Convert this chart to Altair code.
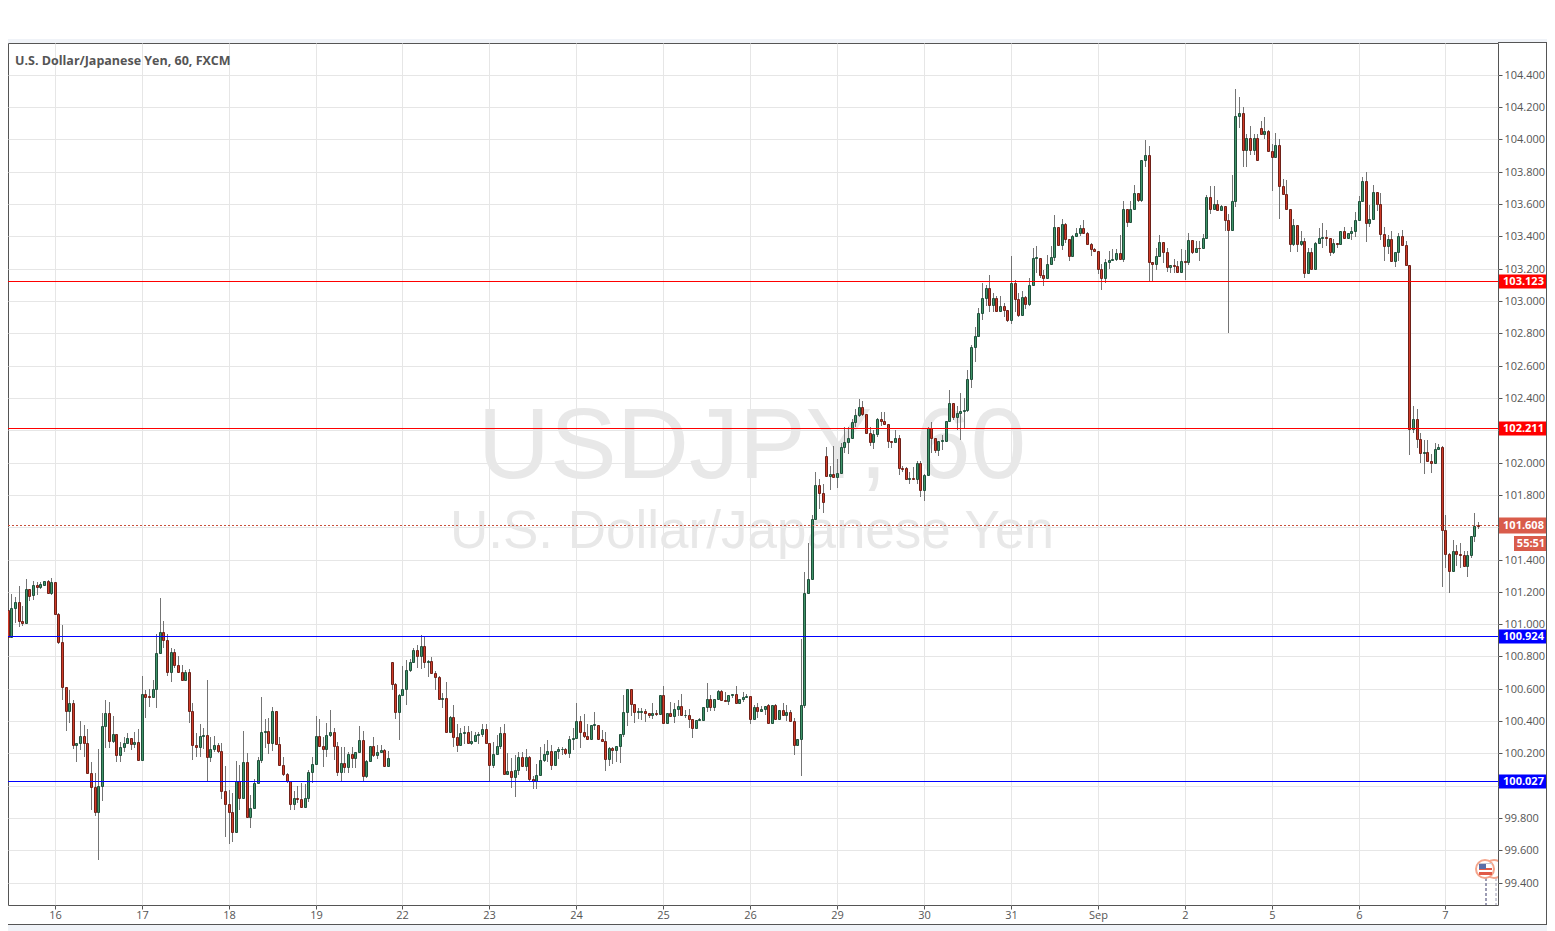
import json
import altair as alt
import pandas as pd

opens = [
101.087,100.92,101.10,101.14,101.02,101.01,101.22,101.18,101.24,101.23,
101.245,101.265,101.19,101.26,101.06,100.89,100.61,100.465,100.515,100.25,
100.265,100.31,100.265,100.08,99.99,99.84,100.0,100.37,100.45,100.28,
100.32,100.19,100.24,100.265,100.295,100.26,100.27,100.16,100.57,100.555,
100.55,100.60,100.82,100.95,100.90,100.705,100.83,100.75,100.705,100.655,
100.705,100.46,100.25,100.24,100.305,100.315,100.18,100.225,100.255,100.215,
99.97,99.89,99.84,99.715,100.03,99.925,100.15,99.805,99.865,100.02,
100.16,100.33,100.34,100.265,100.46,100.26,100.13,100.07,100.03,99.885,
99.925,99.92,99.87,99.925,100.085,100.135,100.31,100.245,100.23,100.315,
100.33,100.245,100.085,100.14,100.115,100.195,100.17,100.21,100.285,100.06,
100.155,100.245,100.19,100.21,100.22,100.125,100.765,100.63,100.455,100.56,
100.60,100.715,100.765,100.84,100.805,100.865,100.765,100.77,100.70,100.675,
100.535,100.54,100.335,100.425,100.30,100.25,100.325,100.33,100.265,100.28,
100.315,100.32,100.35,100.265,100.13,100.195,100.245,100.325,100.075,100.09,
100.055,100.095,100.18,100.125,100.175,100.04,100.03,100.065,100.16,100.195,
100.215,100.13,100.215,100.225,100.23,100.2,100.29,100.295,100.4,100.33,
100.305,100.29,100.375,100.375,100.29,100.275,100.165,100.235,100.22,100.245,
100.32,100.455,100.597,100.505,100.455,100.455,100.465,100.45,100.44,100.45,
100.447,100.56,100.39,100.45,100.43,100.475,100.495,100.435,100.44,100.41,
100.355,100.405,100.405,100.485,100.535,100.485,100.535,100.585,100.53,100.525,
100.56,100.57,100.51,100.535,100.55,100.555,100.415,100.485,100.46,100.475,
100.50,100.39,100.50,100.41,100.47,100.44,100.455,100.40,100.25,100.29,
100.50,101.195,101.28,101.65,101.86,101.81,102.04,101.915,101.93,101.91,
101.935,102.095,102.125,102.15,102.25,102.295,102.345,102.30,102.185,102.125,
102.175,102.27,102.26,102.24,102.135,102.13,102.15,101.965,101.965,101.90,
101.905,101.90,102.0,101.83,101.925,102.215,102.15,102.08,102.135,102.135,
102.255,102.37,102.28,102.305,102.32,102.325,102.52,102.715,102.78,102.925,
103.02,103.08,102.975,103.02,102.94,102.97,102.945,102.885,103.11,103.01,
102.91,103.025,102.98,103.10,103.265,103.265,103.16,103.145,103.23,103.27,
103.455,103.345,103.475,103.385,103.275,103.40,103.42,103.45,103.42,103.355,
103.32,103.31,103.20,103.145,103.24,103.255,103.26,103.295,103.26,103.57,
103.49,103.57,103.67,103.625,103.87,103.905,103.24,103.23,103.28,103.365,
103.305,103.21,103.22,103.215,103.18,103.245,103.24,103.375,103.305,103.33,
103.325,103.39,103.645,103.57,103.60,103.565,103.585,103.50,103.44,103.62,
104.145,104.16,103.935,104.01,103.935,104.01,104.07,104.03,104.05,103.925,
103.89,103.965,103.71,103.66,103.57,103.35,103.47,103.355,103.37,103.17,
103.305,103.195,103.36,103.39,103.395,103.39,103.305,103.36,103.35,103.43,
103.39,103.42,103.43,103.50,103.62,103.74,103.48,103.505,103.675,103.60,
103.415,103.34,103.385,103.25,103.30,103.40,103.345,103.225,102.21,102.27,
102.145,102.06,102.065,102.01,102.0,102.085,102.095,101.58,101.435,101.33,
101.45,101.435,101.425,101.36,101.425,101.545,101.612,
]
highs = [
101.09,101.186,101.17,101.235,101.11,101.28,101.22,101.265,101.26,101.26,
101.27,101.275,101.285,101.26,101.07,100.995,100.61,100.59,100.53,100.265,
100.40,100.375,100.35,100.15,100.08,100.23,100.45,100.53,100.52,100.43,
100.32,100.27,100.30,100.325,100.295,100.33,100.35,100.68,100.59,100.60,
100.655,100.94,101.16,101.02,100.94,100.855,100.845,100.80,100.745,100.715,
100.725,100.51,100.325,100.38,100.355,100.655,100.30,100.305,100.265,100.265,
100.12,99.975,99.955,100.155,100.13,100.34,100.20,99.94,100.04,100.18,
100.55,100.41,100.42,100.49,100.46,100.30,100.18,100.08,100.03,99.965,
100.0,100.017,100.01,100.1,100.175,100.43,100.41,100.30,100.39,100.47,
100.36,100.27,100.24,100.24,100.21,100.24,100.21,100.37,100.34,100.16,
100.245,100.30,100.25,100.255,100.225,100.215,100.765,100.635,100.565,100.74,
100.78,100.785,100.85,100.87,100.935,100.925,100.78,100.795,100.71,100.68,
100.575,100.64,100.43,100.50,100.38,100.36,100.37,100.37,100.34,100.335,
100.33,100.385,100.38,100.264,100.27,100.315,100.365,100.385,100.20,100.17,
100.19,100.21,100.21,100.23,100.185,100.06,100.135,100.24,100.26,100.285,
100.255,100.215,100.24,100.24,100.235,100.31,100.355,100.515,100.43,100.445,
100.38,100.375,100.455,100.375,100.345,100.335,100.24,100.24,100.245,100.32,
100.56,100.60,100.597,100.505,100.48,100.48,100.475,100.45,100.51,100.47,
100.56,100.62,100.45,100.52,100.51,100.53,100.565,100.47,100.475,100.41,
100.405,100.42,100.49,100.635,100.56,100.535,100.59,100.59,100.58,100.56,
100.57,100.62,100.535,100.58,100.57,100.555,100.50,100.51,100.495,100.495,
100.505,100.50,100.505,100.47,100.51,100.50,100.47,100.42,100.29,100.905,
101.32,101.50,101.675,101.94,101.90,101.87,102.095,101.98,102.10,102.02,
102.12,102.22,102.22,102.27,102.33,102.395,102.38,102.30,102.22,102.20,
102.275,102.315,102.31,102.24,102.135,102.20,102.17,101.98,101.97,101.94,
101.975,102.01,102.01,101.93,102.22,102.25,102.15,102.135,102.17,102.255,
102.45,102.37,102.35,102.43,102.40,102.57,102.73,102.84,102.955,103.11,
103.10,103.16,103.05,103.03,103.03,102.99,102.945,103.28,103.13,103.05,
103.06,103.03,103.14,103.33,103.34,103.265,103.19,103.285,103.34,103.53,
103.455,103.51,103.485,103.385,103.405,103.45,103.47,103.50,103.425,103.36,
103.33,103.31,103.23,103.26,103.31,103.32,103.32,103.41,103.62,103.57,
103.62,103.72,103.67,103.87,103.995,103.96,103.24,103.33,103.41,103.365,
103.33,103.22,103.26,103.25,103.32,103.315,103.42,103.38,103.37,103.37,
103.415,103.655,103.71,103.71,103.625,103.595,103.59,103.54,103.78,104.31,
104.26,104.20,104.03,104.08,104.03,104.03,104.115,104.14,104.055,103.97,
104.04,104.0,103.755,103.75,103.57,103.51,103.47,103.43,103.39,103.33,
103.33,103.365,103.45,103.48,103.44,103.39,103.385,103.36,103.43,103.46,
103.42,103.46,103.55,103.65,103.765,103.80,103.595,103.72,103.675,103.665,
103.46,103.41,103.43,103.305,103.42,103.44,103.37,103.225,102.35,102.33,
102.18,102.14,102.14,102.055,102.12,102.115,102.10,101.675,101.44,101.52,
101.49,101.50,101.45,101.455,101.545,101.685,101.635,
]
lows = [
100.92,100.915,101.01,100.98,100.99,101.01,101.145,101.15,101.18,101.215,
101.245,101.185,101.18,101.06,100.88,100.53,100.34,100.39,100.23,100.15,
100.22,100.18,100.08,99.85,99.815,99.54,99.905,100.235,100.235,100.265,
100.15,100.15,100.21,100.265,100.22,100.235,100.16,100.16,100.42,100.49,
100.54,100.48,100.82,100.855,100.68,100.64,100.73,100.70,100.65,100.65,
100.39,100.16,100.18,100.18,100.23,100.03,100.145,100.21,100.205,99.92,
99.68,99.64,99.655,99.71,99.85,99.925,99.805,99.74,99.86,100.02,
100.14,100.235,100.195,100.215,100.255,100.13,100.06,100.02,99.85,99.85,
99.895,99.865,99.865,99.90,100.02,100.135,100.24,100.115,100.18,100.30,
100.16,100.06,100.03,100.08,100.08,100.11,100.11,100.20,100.03,100.05,
100.15,100.18,100.165,100.21,100.12,100.12,100.595,100.41,100.285,100.56,
100.50,100.705,100.76,100.73,100.72,100.73,100.67,100.70,100.595,100.535,
100.48,100.335,100.33,100.24,100.21,100.25,100.26,100.26,100.25,100.27,
100.26,100.30,100.265,100.03,100.11,100.195,100.23,100.07,100.065,99.985,
99.93,100.065,100.12,100.09,100.03,99.98,99.98,100.06,100.145,100.15,
100.095,100.13,100.165,100.19,100.19,100.17,100.22,100.29,100.235,100.295,
100.29,100.29,100.345,100.29,100.27,100.09,100.125,100.135,100.145,100.14,
100.30,100.37,100.43,100.39,100.41,100.405,100.395,100.42,100.41,100.43,
100.445,100.39,100.39,100.425,100.39,100.43,100.43,100.42,100.36,100.295,
100.35,100.40,100.40,100.455,100.46,100.46,100.535,100.525,100.525,100.50,
100.54,100.51,100.51,100.52,100.54,100.385,100.41,100.42,100.46,100.44,
100.39,100.385,100.41,100.41,100.43,100.40,100.40,100.19,100.25,100.06,
100.48,101.195,101.28,101.65,101.71,101.69,101.915,101.83,101.905,101.845,
101.93,102.06,102.05,102.15,102.22,102.28,102.29,102.185,102.10,102.085,
102.16,102.225,102.23,102.09,102.09,102.13,101.925,101.94,101.90,101.865,
101.90,101.87,101.785,101.765,101.92,102.06,102.06,102.04,102.08,102.135,
102.25,102.265,102.20,102.14,102.21,102.31,102.46,102.62,102.78,102.885,
102.97,102.93,102.93,102.94,102.94,102.90,102.87,102.86,102.93,102.90,
102.91,102.95,102.97,103.10,103.17,103.145,103.09,103.14,103.23,103.25,
103.345,103.315,103.36,103.25,103.275,103.40,103.40,103.415,103.355,103.275,
103.31,103.165,103.065,103.11,103.195,103.255,103.25,103.26,103.24,103.46,
103.48,103.57,103.61,103.61,103.83,103.115,103.115,103.19,103.27,103.235,
103.18,103.17,103.17,103.18,103.175,103.13,103.22,103.29,103.305,103.25,
103.325,103.39,103.54,103.57,103.555,103.555,103.43,102.80,103.44,103.58,
104.07,103.83,103.83,103.90,103.90,103.87,104.03,104.0,103.92,103.68,
103.89,103.51,103.655,103.57,103.30,103.34,103.30,103.34,103.145,103.17,
103.19,103.195,103.36,103.33,103.34,103.28,103.29,103.325,103.35,103.385,
103.39,103.38,103.395,103.50,103.615,103.365,103.46,103.505,103.555,103.375,
103.25,103.29,103.25,103.21,103.25,103.34,103.225,102.045,102.18,102.09,
102.0,101.93,102.005,101.935,102.0,102.085,101.23,101.35,101.195,101.32,
101.36,101.35,101.36,101.29,101.41,101.51,101.59,
]
closes = [
100.92,101.10,101.14,101.02,101.01,101.22,101.175,101.24,101.23,101.25,
101.265,101.19,101.26,101.06,100.89,100.61,100.465,100.515,100.25,100.265,
100.31,100.265,100.08,99.99,99.84,100.0,100.37,100.45,100.28,100.32,
100.19,100.24,100.265,100.295,100.26,100.27,100.16,100.57,100.55,100.55,
100.60,100.82,100.95,100.90,100.705,100.83,100.75,100.705,100.655,100.705,
100.46,100.25,100.24,100.305,100.315,100.18,100.225,100.255,100.215,99.97,
99.89,99.84,99.715,100.03,99.925,100.15,99.805,99.865,100.02,100.16,
100.33,100.34,100.265,100.46,100.26,100.13,100.07,100.03,99.885,99.925,
99.915,99.87,99.925,100.085,100.135,100.31,100.245,100.23,100.315,100.33,
100.245,100.085,100.14,100.115,100.195,100.17,100.21,100.285,100.06,100.155,
100.245,100.19,100.21,100.22,100.125,100.17,100.63,100.455,100.56,100.60,
100.715,100.765,100.84,100.805,100.865,100.765,100.77,100.70,100.675,100.535,
100.54,100.335,100.425,100.30,100.25,100.325,100.33,100.265,100.28,100.315,
100.32,100.35,100.265,100.13,100.195,100.245,100.325,100.075,100.09,100.055,
100.095,100.18,100.125,100.175,100.04,100.03,100.065,100.16,100.195,100.215,
100.13,100.215,100.225,100.23,100.2,100.29,100.295,100.4,100.33,100.305,
100.29,100.375,100.38,100.29,100.275,100.165,100.235,100.22,100.245,100.32,
100.455,100.597,100.505,100.455,100.46,100.465,100.45,100.44,100.45,100.447,
100.56,100.39,100.45,100.43,100.475,100.495,100.435,100.44,100.41,100.355,
100.405,100.41,100.485,100.535,100.485,100.535,100.585,100.53,100.525,100.56,
100.57,100.51,100.535,100.55,100.555,100.415,100.485,100.46,100.475,100.495,
100.39,100.50,100.41,100.47,100.44,100.455,100.40,100.25,100.29,100.50,
101.195,101.28,101.65,101.86,101.81,101.755,101.915,101.93,101.91,101.935,
102.095,102.125,102.15,102.25,102.295,102.345,102.30,102.185,102.125,102.175,
102.27,102.26,102.24,102.135,102.13,102.15,101.965,101.96,101.90,101.905,
101.90,102.0,101.83,101.925,102.215,102.15,102.08,102.135,102.14,102.255,
102.37,102.28,102.305,102.32,102.325,102.52,102.715,102.78,102.925,103.02,
103.08,102.975,103.02,102.94,102.97,102.945,102.885,103.11,103.01,102.91,
103.025,102.98,103.10,103.265,103.27,103.16,103.145,103.23,103.27,103.455,
103.345,103.475,103.385,103.275,103.40,103.42,103.45,103.42,103.355,103.32,
103.31,103.20,103.145,103.24,103.255,103.26,103.295,103.26,103.57,103.49,
103.57,103.67,103.625,103.87,103.905,103.24,103.23,103.28,103.365,103.305,
103.21,103.22,103.215,103.18,103.245,103.24,103.375,103.305,103.33,103.325,
103.39,103.645,103.57,103.60,103.565,103.585,103.50,103.44,103.62,104.145,
104.16,103.935,104.01,103.935,104.01,103.87,104.03,104.05,103.925,103.89,
103.965,103.71,103.66,103.57,103.35,103.47,103.355,103.37,103.17,103.305,
103.195,103.36,103.39,103.395,103.39,103.305,103.36,103.35,103.43,103.39,
103.42,103.43,103.50,103.62,103.74,103.48,103.505,103.675,103.60,103.415,
103.34,103.385,103.25,103.30,103.40,103.345,103.225,102.21,102.27,102.145,
102.06,102.065,102.01,102.0,102.085,102.095,101.58,101.435,101.33,101.45,
101.435,101.425,101.36,101.425,101.545,101.608,101.608,
]

day_ticks = [13, 37, 61, 85, 109, 133, 157, 181, 205, 229, 253, 277, 301, 325, 349, 373, 397]
day_labels = ["16", "17", "18", "19", "22", "23", "24", "25", "26", "29", "30", "31", "Sep", "2", "5", "6", "7"]
price_ticks = [99.4, 99.6, 99.8, 100.0, 100.2, 100.4, 100.6, 100.8, 101.0, 101.2, 101.4, 101.6, 101.8,
               102.0, 102.2, 102.4, 102.6, 102.8, 103.0, 103.2, 103.4, 103.6, 103.8, 104.0, 104.2, 104.4]
level_prices = [103.123, 102.211, 100.924, 100.027]
level_colors = ["#ff0000", "#ff0000", "#0000ff", "#0000ff"]
last_price = 101.608
countdown = "55:51"

W, H = 1490, 862
AXC = "#555555"
FONT = "Open Sans"

candles = pd.DataFrame({"i": range(len(opens)), "o": opens, "h": highs, "l": lows, "c": closes})
candles["dir"] = ["up" if c >= o else "down" for o, c in zip(opens, closes)]
levels = pd.DataFrame({"p": level_prices, "col": level_colors, "txt": [f"{v:.3f}" for v in level_prices]})
last = pd.DataFrame({"p": [last_price], "txt": [f"{last_price:.3f}"]})
one = pd.DataFrame({"a": [0]})

x_scale = alt.Scale(domain=[0.091, 411.5], nice=False, zero=False, round=True, padding=0)
y_scale = alt.Scale(domain=[99.2621, 104.5961], nice=False, zero=False, round=True, padding=0)
x_axis = alt.Axis(
    values=day_ticks, labelExpr=json.dumps(day_labels) + "[(datum.value-13)/24]", grid=True, gridColor="#e6e6e6",
    domain=False, tickColor=AXC, tickSize=4, labelColor=AXC, labelFont=FONT, labelFontSize=11, labelPadding=0,
    labelOverlap=False)
y_axis = alt.Axis(
    orient="right", values=price_ticks, grid=True, gridColor="#e6e6e6", domain=False, tickColor=AXC,
    labelExpr="(abs(datum.value-100)<0.01||abs(datum.value-102.2)<0.01||abs(datum.value-101.6)<0.01)"
              "?'':format(datum.value,'.3f')",
    tickSize=4, labelColor=AXC, labelFont=FONT, labelFontSize=11, labelPadding=2, labelOverlap=False)
X = alt.X("i:Q", scale=x_scale, axis=x_axis, title=None)
NOY = dict(scale=y_scale, axis=y_axis, title=None)


def box(x, x2, y, y2, fill):
    return alt.Chart(one).mark_rect(fill=fill, stroke=None).encode(
        x=alt.value(x), x2=alt.value(x2), y=alt.value(y), y2=alt.value(y2))


def label(text, x, y, size, color, weight="normal", align="center", font=FONT, baseline="middle"):
    return alt.Chart(one).mark_text(text=text, fontSize=size, color=color, fontWeight=weight, align=align,
                                    font=font, baseline=baseline).encode(x=alt.value(x), y=alt.value(y))


band = "#f0f3f8"
chrome = [box(-8, 1539, -4, 0, band), box(-8, 1539, 882, 890, band)]

watermark = [
    label("USDJPY, 60", 744, 435, 100, "#e8e8e8", font="Liberation Sans", baseline="alphabetic"),
    label("U.S. Dollar/Japanese Yen", 744, 505, 53, "#e8e8e8", font="Liberation Sans", baseline="alphabetic"),
]

wicks = alt.Chart(candles).mark_rule(color="#747474", strokeWidth=1, xOffset=0.5).encode(
    x=X, y=alt.Y("l:Q", **NOY), y2="h:Q")

bodies = alt.Chart(candles).mark_bar(size=2, strokeWidth=1, xOffset=0.5, yOffset=0.5, y2Offset=0.5).encode(
    x=X, y=alt.Y("o:Q", **NOY), y2="c:Q",
    fill=alt.Fill("dir:N", scale=alt.Scale(domain=["up", "down"], range=["#3f9468", "#cf3b28"]), legend=None),
    stroke=alt.Stroke("dir:N", scale=alt.Scale(domain=["up", "down"], range=["#1f4f3a", "#6e2018"]), legend=None),
)

lvl_lines = alt.Chart(levels).mark_rule(strokeWidth=1, yOffset=0.5).encode(
    y=alt.Y("p:Q", **NOY), color=alt.Color("col:N", scale=None))
last_line = alt.Chart(last).mark_rule(color="#c8503c", strokeWidth=1, strokeDash=[2, 2], yOffset=-0.5).encode(
    y=alt.Y("p:Q", **NOY))
lvl_boxes = alt.Chart(levels).mark_rule(strokeWidth=14, yOffset=0.5).encode(
    x=alt.value(1491), x2=alt.value(1539), y=alt.Y("p:Q", **NOY), color=alt.Color("col:N", scale=None))
lvl_text = alt.Chart(levels).mark_text(color="white", fontWeight="bold", fontSize=11, font=FONT, yOffset=1).encode(
    x=alt.value(1515.5), y=alt.Y("p:Q", **NOY), text="txt:N")
last_box = alt.Chart(last).mark_rule(strokeWidth=16, color="#d95c4b", yOffset=-0.5).encode(
    x=alt.value(1491), x2=alt.value(1539), y=alt.Y("p:Q", **NOY))
last_text = alt.Chart(last).mark_text(color="white", fontWeight="bold", fontSize=11, font=FONT, yOffset=-0.5).encode(
    x=alt.value(1515.5), y=alt.Y("p:Q", **NOY), text="txt:N")
count_box = box(1506, 1539, 493, 508, "#d95c4b")
count_text = label(countdown, 1523, 500.5, 11, "white", "bold")

title = label("U.S. Dollar/Japanese Yen, 60, FXCM", 7, 18, 12.5, AXC, "bold", align="left")

frame = [box(1490, 1539, -1, 0, AXC), box(1538, 1539, -1, 881, AXC), box(0, 1539, 881, 882, AXC)]

ev_lines = [
    alt.Chart(one).mark_rule(color="#9c9cb4", strokeWidth=2, strokeDash=[3, 2]).encode(
        x=alt.value(1478), y=alt.value(835), y2=alt.value(862)),
    alt.Chart(one).mark_rule(color="#9c9cb4", strokeWidth=1, strokeDash=[3, 2]).encode(
        x=alt.value(1488), y=alt.value(835), y2=alt.value(862)),
]
ring2 = alt.Chart(one).mark_point(shape="circle", size=324, filled=True, fill="white", stroke="#f4a58c", strokeWidth=2,
                                  opacity=1, clip=True).encode(x=alt.value(1486), y=alt.value(826))
ring1 = alt.Chart(one).mark_point(shape="circle", size=324, filled=True, fill="white", stroke="#f4a58c", strokeWidth=2,
                                  opacity=1).encode(x=alt.value(1477), y=alt.value(826))
flag = [
    box(1471, 1484, 825, 827, "#e05a48"),
    box(1471, 1484, 829, 832, "#e05a48"),
    box(1471, 1478, 820, 826, "#5a6ea8"),
    box(1471, 1484, 820, 821, "#c9c9d2"),
]

chart = alt.layer(
    *chrome, *watermark, wicks, bodies, lvl_lines, last_line, lvl_boxes, lvl_text, last_box, last_text,
    count_box, count_text, title, *frame, *ev_lines, ring2, ring1, *flag,
).properties(
    width=W, height=H,
    padding={"left": 0, "top": 35, "right": 49, "bottom": 26},
    autosize=alt.AutoSizeParams(type="none"),
    background="white",
).configure_view(stroke=AXC, strokeWidth=1)

chart.save("out.html", embed_options={"renderer": "svg", "actions": False})
